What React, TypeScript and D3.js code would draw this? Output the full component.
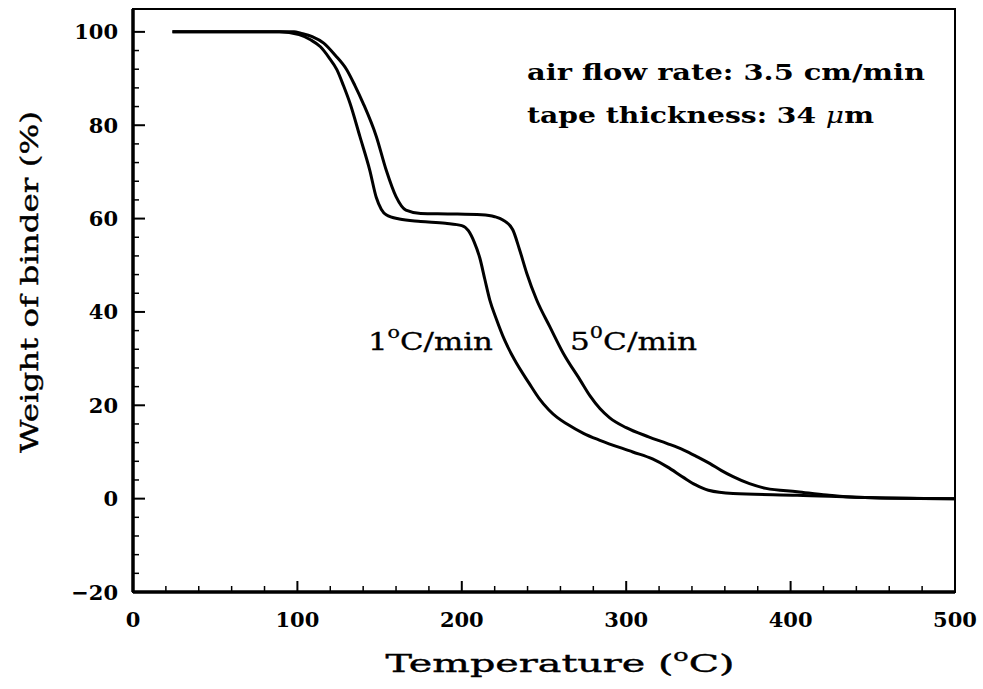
import React from "react";
import * as d3 from "d3";

const temps1 = [24, 89, 101, 108, 114, 119, 124, 128, 132, 138, 144, 148, 151, 154, 162, 175, 190, 200, 204, 207.5, 211, 214, 217, 221, 226, 232, 241, 247, 253, 258, 264, 274, 284, 304, 316, 325, 335, 342, 350, 365, 404, 450, 500];
const weight1 = [100, 100, 99.4, 98.3, 96.8, 94.6, 91.9, 88.5, 84.7, 77.6, 70.4, 64.5, 62, 60.8, 59.9, 59.4, 59, 58.5, 57.4, 55, 51.5, 47, 42.6, 38.5, 34, 29.8, 24.7, 21.5, 19, 17.4, 16, 14, 12.5, 10, 8.5, 6.8, 4.5, 3, 1.8, 1.1, 0.75, 0.2, 0];

const temps5 = [24, 98, 102, 109, 116, 123, 130, 135, 140, 148, 154, 160, 166, 175, 193, 212, 220, 225, 231, 235, 239.5, 245.5, 253.6, 261.8, 272, 278, 284, 290, 300, 314, 325, 335, 343, 351, 358, 365, 375, 385, 404, 422, 440, 500];
const weight5 = [100, 100, 99.7, 99, 97.6, 95, 91.9, 88.5, 84.7, 77.6, 70.4, 64.7, 61.8, 61.1, 61, 60.8, 60.4, 59.7, 57.6, 53.5, 48.3, 42.6, 36.8, 31.1, 25.4, 22, 19.3, 17.3, 15.2, 13.2, 11.8, 10.4, 9, 7.5, 6, 4.7, 3.2, 2.2, 1.5, 0.8, 0.3, 0];

const xMajor = [0, 100, 200, 300, 400, 500];
const yMajor = [-20, 0, 20, 40, 60, 80, 100];

const W = 983, H = 689;
const FONT = "'DejaVu Serif', serif";

export default function App() {
  const x = d3.scaleLinear().domain([0, 500]).range([133, 955]);
  const y = d3.scaleLinear().domain([-20, 104.9]).range([592, 9]);
  const line = d3
    .line<[number, number]>()
    .x((d) => x(d[0]))
    .y((d) => y(d[1]))
    .curve(d3.curveMonotoneX);
  const d1 = line(temps1.map((t, i) => [t, weight1[i]] as [number, number])) || "";
  const d5 = line(temps5.map((t, i) => [t, weight5[i]] as [number, number])) || "";
  const xMinor = d3.range(0, 501, 20).filter((v) => v % 100 !== 0);
  const yMinor = d3.range(-20, 101, 4).filter((v) => v % 20 !== 0);

  return (
    <svg width={W} height={H} style={{ position: "absolute", left: 0, top: 0, background: "#fff" }} fontFamily={FONT}>
      <rect x={0} y={0} width={W} height={H} fill="#fff" />
      {/* curves */}
      <path d={d1} fill="none" stroke="#000" strokeWidth={3} strokeLinejoin="round" />
      <path d={d5} fill="none" stroke="#000" strokeWidth={3} strokeLinejoin="round" />
      {/* frame */}
      <rect x={x(0)} y={y(104.9)} width={x(500) - x(0)} height={y(-20) - y(104.9)} fill="none" stroke="#000" strokeWidth={2} />
      <line x1={x(0)} x2={x(0)} y1={y(104.9)} y2={y(-20)} stroke="#000" strokeWidth={3.5} />
      <line x1={x(0)} x2={x(500)} y1={y(-20)} y2={y(-20)} stroke="#000" strokeWidth={3.5} />
      {/* x ticks */}
      {xMajor.map((v) => (
        <g key={"xm" + v}>
          <line x1={x(v)} x2={x(v)} y1={y(-20)} y2={y(-20) - 11} stroke="#000" strokeWidth={2} />
          <text x={x(v)} y={627} textAnchor="middle" fontSize={21} fontWeight="bold">{v}</text>
        </g>
      ))}
      {xMinor.map((v) => (
        <line key={"xn" + v} x1={x(v)} x2={x(v)} y1={y(-20)} y2={y(-20) - 6} stroke="#000" strokeWidth={1.5} />
      ))}
      {/* y ticks */}
      {yMajor.map((v) => (
        <g key={"ym" + v}>
          <line x1={x(0)} x2={x(0) + 12} y1={y(v)} y2={y(v)} stroke="#000" strokeWidth={2} />
          <text x={118} y={y(v)} dy="0.36em" textAnchor="end" fontSize={21} fontWeight="bold">
            {v < 0 ? "\u2212" + Math.abs(v) : v}
          </text>
        </g>
      ))}
      {yMinor.map((v) => (
        <line key={"yn" + v} x1={x(0)} x2={x(0) + 6} y1={y(v)} y2={y(v)} stroke="#000" strokeWidth={1.5} />
      ))}
      {/* axis titles */}
      <text x={560} y={672} textAnchor="middle" fontSize={25} textLength={349} lengthAdjust="spacingAndGlyphs" stroke="#000" strokeWidth={0.4}>
        Temperature (<tspan dy={-11} fontSize={16}>o</tspan><tspan dy={11}>C)</tspan>
      </text>
      <text transform="translate(38,282) rotate(-90)" textAnchor="middle" fontSize={25} textLength={342} lengthAdjust="spacingAndGlyphs" stroke="#000" strokeWidth={0.4}>
        Weight of binder (%)
      </text>
      {/* annotations */}
      <text x={527} y={80} fontSize={22} fontWeight="bold" textLength={398} lengthAdjust="spacingAndGlyphs">
        air flow rate: 3.5 cm/min
      </text>
      <text x={527} y={123} fontSize={22} fontWeight="bold" textLength={347} lengthAdjust="spacingAndGlyphs">
        tape thickness: 34 <tspan fontStyle="italic" fontWeight="normal">μ</tspan>m
      </text>
      <text x={368} y={350} fontSize={24} textLength={125} lengthAdjust="spacingAndGlyphs" stroke="#000" strokeWidth={0.3}>
        1<tspan dy={-12} fontSize={16}>o</tspan><tspan dy={12}>C/min</tspan>
      </text>
      <text x={570} y={350} fontSize={24} textLength={127} lengthAdjust="spacingAndGlyphs" stroke="#000" strokeWidth={0.3}>
        5<tspan dy={-12} fontSize={16}>0</tspan><tspan dy={12}>C/min</tspan>
      </text>
    </svg>
  );
}
